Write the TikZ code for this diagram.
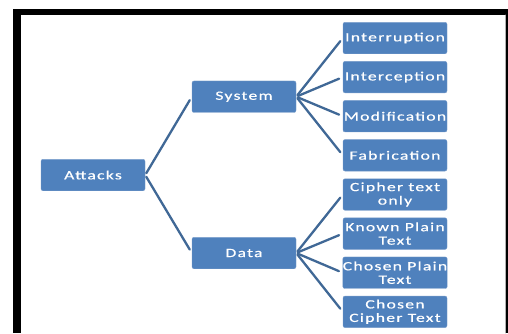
\documentclass[tikz,border=0pt]{standalone}
\usepackage{fontspec}
\setmainfont{Carlito}[FakeStretch=1.4,LetterSpace=10,FakeBold=0.6]
\usetikzlibrary{arrows}
\definecolor{boxblue}{RGB}{79,129,189}
\definecolor{boxedge}{RGB}{120,156,202}
\definecolor{linkblue}{RGB}{64,104,150}

\begin{document}
\begin{tikzpicture}[line cap=round,line join=round,x=1pt,y=-1pt,
  attbox/.style={draw=boxedge,fill=boxblue,rounded corners=2pt,minimum width=104pt,inner xsep=0pt,inner ysep=0pt,minimum height=31.5pt,align=center,text=white,font=\fontsize{12.6}{13.5}\selectfont},
  link/.style={draw=linkblue,line width=2.3pt,shorten <=2pt,shorten >=4pt}]
\useasboundingbox (0,0) rectangle (508,333);
\fill[black] (12.5,9) rectangle (508,333);
\fill[white] (21,15) rectangle (505.5,333);
\draw[gray!60,line width=0.6pt] (505.5,15) -- (505.5,333);
\node[attbox] (attacks) at (93,175) {Attacks};
\node[attbox] (system) at (244,96.7) {System};
\node[attbox] (data) at (244,253) {Data};
\node[attbox] (interrupt) at (395,38) {Interruption};
\node[attbox] (intercept) at (395,77.1) {Interception};
\node[attbox] (modify) at (395,116.2) {Modification};
\node[attbox] (fabricate) at (395,155.3) {Fabrication};
\node[attbox] (ciphonly) at (395,194.5) {Cipher text\\only};
\node[attbox] (knownplain) at (395,233.6) {Known Plain\\Text};
\node[attbox] (chosenplain) at (395,272.7) {Chosen Plain\\Text};
\node[attbox] (chosenciph) at (395,311.8) {Chosen\\Cipher Text};
\draw[link] (attacks.east) -- (system.west);
\draw[link] (attacks.east) -- (data.west);
\draw[link] (system.east) -- (interrupt.west);
\draw[link] (system.east) -- (intercept.west);
\draw[link] (system.east) -- (modify.west);
\draw[link] (system.east) -- (fabricate.west);
\draw[link] (data.east) -- (ciphonly.west);
\draw[link] (data.east) -- (knownplain.west);
\draw[link] (data.east) -- (chosenplain.west);
\draw[link] (data.east) -- (chosenciph.west);
\end{tikzpicture}
\end{document}
